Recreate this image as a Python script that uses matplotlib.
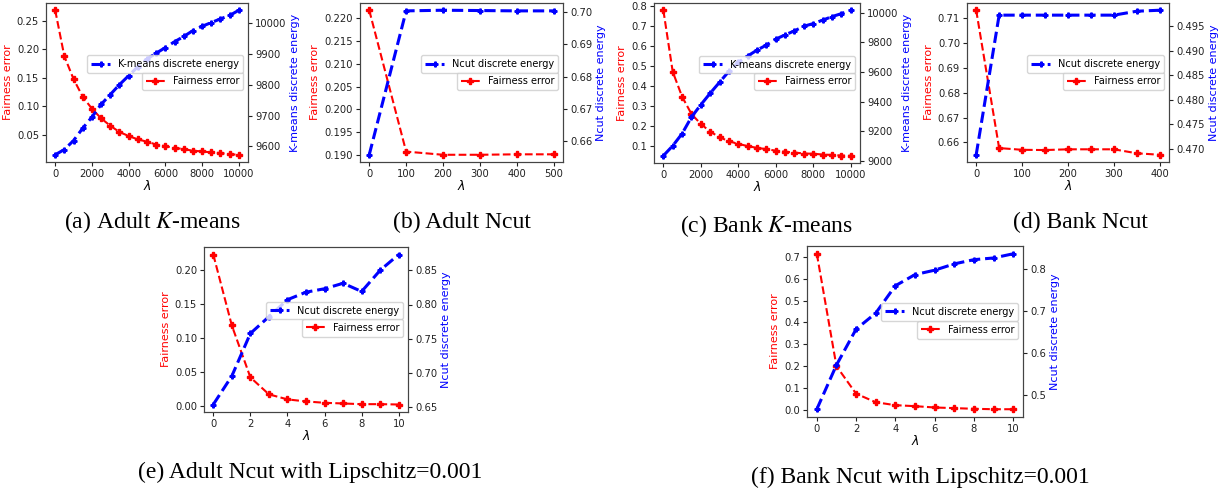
import matplotlib
matplotlib.use("Agg")
import matplotlib.pyplot as plt
import numpy as np
from matplotlib.ticker import MultipleLocator

# ---- data ----
lam_a = [0, 500, 1000, 1500, 2000, 2500, 3000, 3500, 4000, 4500, 5000,
         5500, 6000, 6500, 7000, 7500, 8000, 8500, 9000, 9500, 10000]
fair_a = [0.269, 0.188, 0.148, 0.117, 0.096, 0.079, 0.066, 0.055, 0.048, 0.042, 0.038,
          0.033, 0.030, 0.027, 0.025, 0.022, 0.021, 0.019, 0.018, 0.016, 0.015]
energy_a = [9573, 9590, 9619, 9659, 9695, 9736, 9768, 9800, 9829, 9858, 9883,
            9902, 9920, 9939, 9956, 9975, 9989, 10001, 10013, 10024, 10041]

lam_b = [0, 100, 200, 300, 400, 500]
fair_b = [0.2218, 0.1907, 0.1900, 0.1900, 0.1901, 0.1901]
energy_b = [0.6558, 0.7004, 0.7006, 0.7005, 0.7004, 0.7004]

lam_c = lam_a
fair_c = [0.778, 0.472, 0.348, 0.262, 0.212, 0.174, 0.146, 0.126, 0.113, 0.102, 0.093,
          0.087, 0.079, 0.074, 0.070, 0.065, 0.064, 0.060, 0.058, 0.055, 0.054]
energy_c = [9034, 9101, 9183, 9295, 9378, 9456, 9530, 9604, 9664, 9707, 9747,
            9781, 9821, 9850, 9877, 9908, 9926, 9949, 9973, 9993, 10016]

lam_d = [0, 50, 100, 150, 200, 250, 300, 350, 400]
fair_d = [0.7132, 0.6577, 0.6570, 0.6569, 0.6572, 0.6572, 0.6572, 0.6556, 0.6550]
energy_d = [0.4688, 0.4972, 0.4972, 0.4972, 0.4972, 0.4972, 0.4972, 0.4980, 0.4982]

lam_e = [0, 1, 2, 3, 4, 5, 6, 7, 8, 9, 10]
fair_e = [0.2224, 0.1184, 0.0423, 0.0174, 0.0100, 0.0070, 0.0050, 0.0040, 0.0030, 0.0030, 0.0025]
energy_e = [0.654, 0.6955, 0.7577, 0.7822, 0.807, 0.818, 0.823, 0.831, 0.819, 0.850, 0.873]

lam_f = lam_e
fair_f = [0.714, 0.200, 0.074, 0.035, 0.0215, 0.017, 0.011, 0.008, 0.005, 0.003, 0.003]
energy_f = [0.4666, 0.5716, 0.6568, 0.695, 0.760, 0.7865, 0.797, 0.812, 0.822, 0.826, 0.836]

captions = {
    'a': r'(a) Adult $K$-means',
    'b': '(b) Adult Ncut',
    'c': r'(c) Bank $K$-means',
    'd': '(d) Bank Ncut',
    'e': '(e) Adult Ncut with Lipschitz=0.001',
    'f': '(f) Bank Ncut with Lipschitz=0.001',
}

W, H = 1225, 492
fig = plt.figure(figsize=(W / 100, H / 100), dpi=100)
plt.rcParams['mathtext.fontset'] = 'dejavusans'


def box(l, t, r, b):
    return [l / W, 1 - b / H, (r - l) / W, (b - t) / H]


def plotter(rect, lam, fair, energy, name, cap, cap_xy, steps):
    ax = fig.add_axes(box(*rect))
    ax2 = ax.twinx()
    l1, = ax.plot(lam, fair, '--', color='red', lw=1.5, marker='P', ms=5, label='Fairness error')
    l2, = ax2.plot(lam, energy, '--', color='blue', lw=2.2, marker='P', ms=3.5, label=name)
    ax.set_ylabel('Fairness error', color='red', fontsize=8, labelpad=3)
    ax2.set_ylabel(name, color='blue', fontsize=8, labelpad=3)
    ax.set_xlabel(r'$\lambda$', fontsize=9, labelpad=0)
    ax.xaxis.set_major_locator(MultipleLocator(steps[0]))
    ax.yaxis.set_major_locator(MultipleLocator(steps[1]))
    ax2.yaxis.set_major_locator(MultipleLocator(steps[2]))
    for a in (ax, ax2):
        a.tick_params(labelsize=7.2, length=3, pad=2, colors='#222222')
        for s in a.spines.values():
            s.set_color('#444444')
    ax.legend(handles=[l1], loc='center right', bbox_to_anchor=(1, 0.51), fontsize=7)
    ax2.legend(handles=[l2], loc='center right', bbox_to_anchor=(1, 0.615), fontsize=7)
    fig.text(cap_xy[0] / W, 1 - cap_xy[1] / H, cap, ha='center', va='center',
             fontsize=17, family='Liberation Serif',
             math_fontfamily='stix')
    return ax


plotter((46, 3, 248, 162), lam_a, fair_a, energy_a, 'K-means discrete energy', captions['a'], (153, 222),
        (2000, 0.05, 100))
plotter((360, 3, 563, 162), lam_b, fair_b, energy_b, 'Ncut discrete energy', captions['b'], (462, 222),
        (100, 0.005, 0.01))
plotter((654, 3, 860, 163), lam_c, fair_c, energy_c, 'K-means discrete energy', captions['c'], (767, 226),
        (2000, 0.1, 200))
plotter((967, 3, 1169, 162), lam_d, fair_d, energy_d, 'Ncut discrete energy', captions['d'], (1080, 222),
        (100, 0.01, 0.005))
plotter((204, 247, 408, 412), lam_e, fair_e, energy_e, 'Ncut discrete energy', captions['e'], (310, 472),
        (2, 0.05, 0.05))
plotter((807, 246, 1023, 417), lam_f, fair_f, energy_f, 'Ncut discrete energy', captions['f'], (920, 477),
        (2, 0.1, 0.1))

plt.savefig('out.png', dpi=100)
